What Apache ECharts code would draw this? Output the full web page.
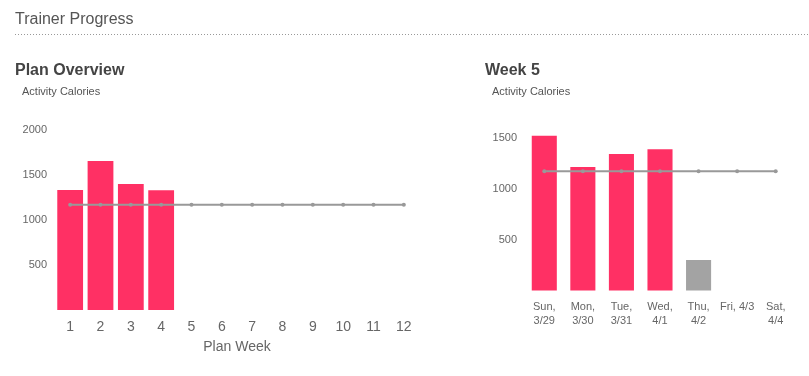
<!DOCTYPE html>
<html>
<head>
<meta charset="utf-8">
<script src="https://cdn.jsdelivr.net/npm/echarts@6/dist/echarts.min.js"></script>
<style>
html,body{margin:0;padding:0;background:#fff;}
#chart{width:809px;height:376px;}
</style>
</head>
<body>
<div id="chart"></div>
<script>
const planWeeks = ['1','2','3','4','5','6','7','8','9','10','11','12'];
const planCalories = [1333, 1656, 1400, 1330, null, null, null, null, null, null, null, null];
const planGoal = [1170,1170,1170,1170,1170,1170,1170,1170,1170,1170,1170,1170];

const weekDays = ['Sun,\n3/29','Mon,\n3/30','Tue,\n3/31','Wed,\n4/1','Thu,\n4/2','Fri, 4/3','Sat,\n4/4'];
const weekCalories = [1518, 1211, 1338, 1384, 299, null, null];
const weekInProgress = [false, false, false, false, true, false, false];
const weekGoal = [1170,1170,1170,1170,1170,1170,1170];

const PINK = '#FF3064';
const GRAY_BAR = '#A3A3A3';
const FONT = 'Liberation Sans, Arial, sans-serif';

const chart = echarts.init(document.getElementById('chart'), null, {renderer:'canvas'});

const yLabelFmt = v => (v > 0 && v % 500 === 0) ? String(v) : '';

chart.setOption({
  animation: false,
  textStyle: {fontFamily: FONT},
  title: [
    {text: 'Trainer Progress', left: 15, top: 12, padding: 0, textStyle: {fontSize: 16, fontWeight: 'normal', color: '#555', fontFamily: FONT}},
    {text: 'Plan Overview', left: 15, top: 63, padding: 0, textStyle: {fontSize: 16, fontWeight: 'bold', color: '#444', fontFamily: FONT}},
    {text: 'Activity Calories', left: 22, top: 86, padding: 0, textStyle: {fontSize: 11, fontWeight: 'normal', color: '#555', fontFamily: FONT}},
    {text: 'Week 5', left: 485, top: 63, padding: 0, textStyle: {fontSize: 16, fontWeight: 'bold', color: '#444', fontFamily: FONT}},
    {text: 'Activity Calories', left: 492, top: 86, padding: 0, textStyle: {fontSize: 11, fontWeight: 'normal', color: '#555', fontFamily: FONT}}
  ],
  graphic: [
    {type: 'line', shape: {x1: 15, y1: 34.5, x2: 809, y2: 34.5}, style: {stroke: '#999', lineWidth: 1, lineDash: [1, 2]}}
  ],
  grid: [
    {left: 55, top: 130, width: 364, height: 180, containLabel: false},
    {left: 525, top: 127.3, width: 270, height: 163.2, containLabel: false}
  ],
  xAxis: [
    {type: 'category', gridIndex: 0, data: planWeeks,
     axisLine: {show: false}, axisTick: {show: false},
     axisLabel: {fontSize: 14, color: '#666', margin: 10, interval: 0},
     name: 'Plan Week', nameLocation: 'middle', nameGap: 30,
     nameTextStyle: {fontSize: 14, color: '#666'}},
    {type: 'category', gridIndex: 1, data: weekDays,
     axisLine: {show: false}, axisTick: {show: false},
     axisLabel: {fontSize: 11, color: '#666', margin: 9, interval: 0, lineHeight: 14}}
  ],
  yAxis: [
    {type: 'value', gridIndex: 0, min: 0, max: 2000, interval: 500,
     axisLine: {show: false}, axisTick: {show: false}, splitLine: {show: false},
     axisLabel: {fontSize: 11, color: '#666', margin: 8, formatter: yLabelFmt}},
    {type: 'value', gridIndex: 1, min: 0, max: 1600, interval: 500,
     axisLine: {show: false}, axisTick: {show: false}, splitLine: {show: false},
     axisLabel: {fontSize: 11, color: '#666', margin: 8, formatter: yLabelFmt}}
  ],
  series: [
    {type: 'bar', xAxisIndex: 0, yAxisIndex: 0, data: planCalories,
     barCategoryGap: '15%', itemStyle: {color: PINK}},
    {type: 'line', xAxisIndex: 0, yAxisIndex: 0, data: planGoal,
     symbol: 'circle', symbolSize: 4, lineStyle: {color: '#999', width: 2},
     itemStyle: {color: '#999'}},
    {type: 'bar', xAxisIndex: 1, yAxisIndex: 1,
     data: weekCalories.map((v, i) => v === null ? null : {value: v, itemStyle: {color: weekInProgress[i] ? GRAY_BAR : PINK}}),
     barCategoryGap: '35%', itemStyle: {color: PINK}},
    {type: 'line', xAxisIndex: 1, yAxisIndex: 1, data: weekGoal,
     symbol: 'circle', symbolSize: 4, lineStyle: {color: '#999', width: 2},
     itemStyle: {color: '#999'}}
  ]
});
</script>
</body>
</html>
